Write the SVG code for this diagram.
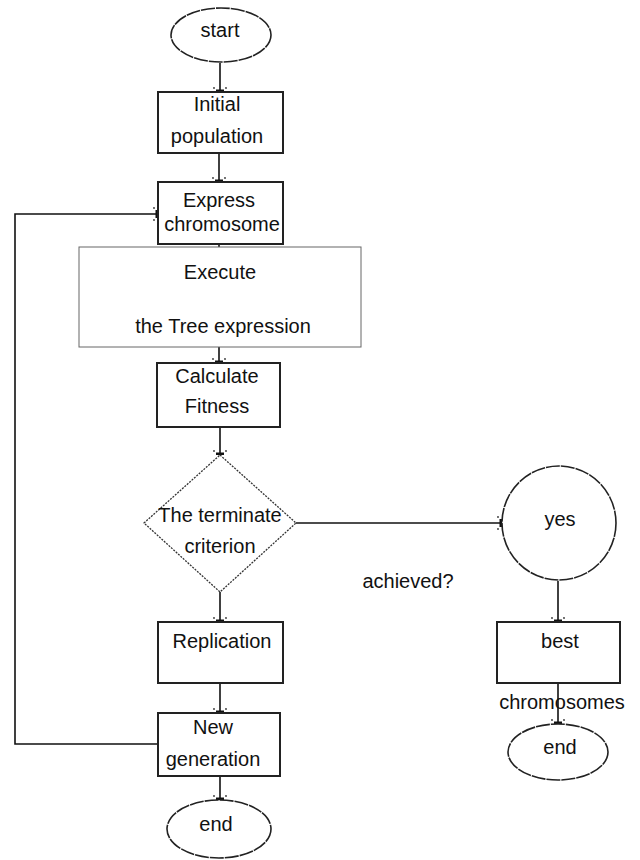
<svg xmlns="http://www.w3.org/2000/svg" width="640" height="860" viewBox="0 0 640 860">
  <style>
    text { font-family: "Liberation Sans", Arial, sans-serif; font-size: 20px; fill: #111; text-anchor: middle; }
    .box { fill: #fff; stroke: #222; stroke-width: 2; }
    .thin { fill: #fff; stroke: #666; stroke-width: 1; }
    .term { fill: #fff; stroke: #222; stroke-width: 1.6; stroke-dasharray: 14 1; }
    .decision { fill: #fff; stroke: #333; stroke-width: 1.3; stroke-dasharray: 2 1.2; }
    .conn { fill: none; stroke: #111; stroke-width: 1.6; }
  </style>
  <defs>
    <marker id="tip" markerUnits="userSpaceOnUse" markerWidth="12" markerHeight="16" refX="0" refY="0" viewBox="-6 -8 8 16" orient="auto" overflow="visible">
      <rect x="-2.5" y="-4" width="2.5" height="8" fill="#111"/>
      <circle cx="-4" cy="-6" r="0.9" fill="#333"/>
      <circle cx="-4" cy="6" r="0.9" fill="#333"/>
    </marker>
  </defs>

  <!-- connectors -->
  <g id="connectors">
    <line class="conn" x1="220" y1="63" x2="220" y2="92" marker-end="url(#tip)"/>
    <line class="conn" x1="219" y1="153" x2="219" y2="182" marker-end="url(#tip)"/>
    <line class="conn" x1="219" y1="244" x2="219" y2="247"/>
    <line class="conn" x1="219" y1="347" x2="219" y2="363" marker-end="url(#tip)"/>
    <line class="conn" x1="220" y1="427" x2="220" y2="455" marker-end="url(#tip)"/>
    <line class="conn" x1="296" y1="523" x2="502" y2="523" marker-end="url(#tip)"/>
    <line class="conn" x1="220" y1="592" x2="220" y2="622" marker-end="url(#tip)"/>
    <line class="conn" x1="220" y1="683" x2="220" y2="713" marker-end="url(#tip)"/>
    <line class="conn" x1="220" y1="776" x2="220" y2="800" marker-end="url(#tip)"/>
    <polyline class="conn" points="158,744 15,744 15,214 158,214" stroke-width="2" marker-end="url(#tip)"/>
    <line class="conn" x1="558" y1="581" x2="558" y2="622" marker-end="url(#tip)"/>
    <line class="conn" x1="558" y1="683" x2="558" y2="724" marker-end="url(#tip)"/>
  </g>

  <g id="start">
    <ellipse class="term" cx="221" cy="35" rx="50" ry="27"/>
    <text x="220" y="37">start</text>
  </g>

  <g id="initial-population">
    <rect class="box" x="158" y="92" width="125" height="61"/>
    <text x="217" y="111">Initial</text>
    <text x="217" y="143">population</text>
  </g>

  <g id="express-chromosome">
    <rect class="box" x="158" y="182" width="125" height="62"/>
    <text x="219" y="207">Express</text>
    <text x="222" y="231">chromosome</text>
  </g>

  <g id="execute-tree">
    <rect class="thin" x="79" y="247" width="282" height="100"/>
    <text x="220" y="279">Execute</text>
    <text x="223" y="333">the Tree expression</text>
  </g>

  <g id="calculate-fitness">
    <rect class="box" x="157" y="363" width="123" height="64"/>
    <text x="217" y="383">Calculate</text>
    <text x="217" y="413">Fitness</text>
  </g>

  <g id="terminate-check">
    <polygon class="decision" points="220,455 296,523 220,592 144,523"/>
    <text x="220" y="522">The terminate</text>
    <text x="220" y="553">criterion</text>
    <text x="408" y="588">achieved?</text>
  </g>

  <g id="yes">
    <circle class="term" cx="559" cy="523" r="57"/>
    <text x="560" y="526">yes</text>
  </g>

  <g id="best-chromosomes">
    <rect class="box" x="497" y="622" width="123" height="61"/>
    <text x="560" y="648">best</text>
    <text x="562" y="709">chromosomes</text>
  </g>

  <g id="end-right">
    <ellipse class="term" cx="558" cy="752" rx="50" ry="28"/>
    <text x="560" y="754">end</text>
  </g>

  <g id="replication">
    <rect class="box" x="158" y="622" width="125" height="61"/>
    <text x="222" y="648">Replication</text>
  </g>

  <g id="new-generation">
    <rect class="box" x="158" y="713" width="122" height="63"/>
    <text x="213" y="734">New</text>
    <text x="213" y="766">generation</text>
  </g>

  <g id="end-left">
    <ellipse class="term" cx="219" cy="829" rx="52" ry="29"/>
    <text x="216" y="831">end</text>
  </g>
</svg>
